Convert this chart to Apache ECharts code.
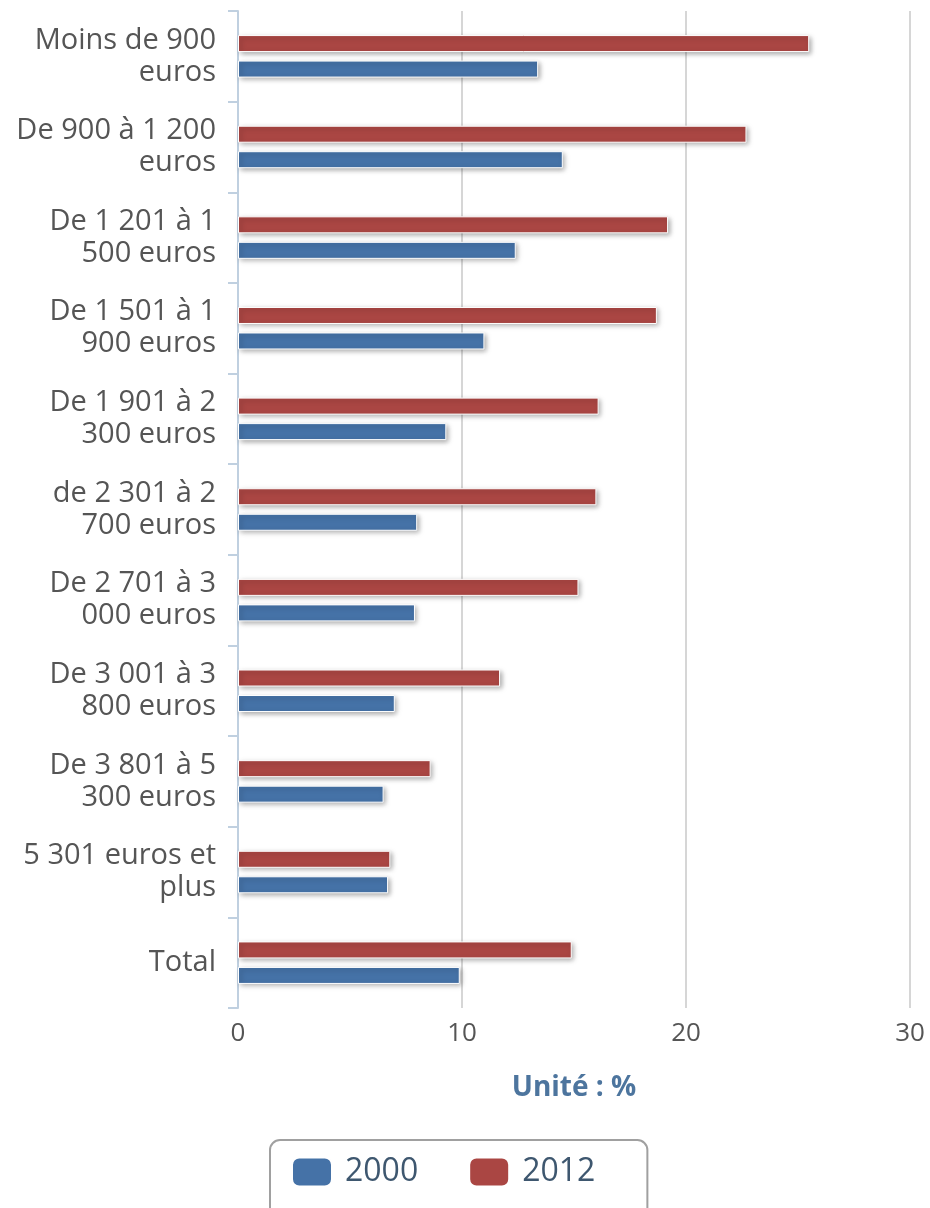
<!DOCTYPE html>
<html>
<head>
<meta charset="utf-8">
<script src="https://cdn.jsdelivr.net/npm/echarts@6/dist/echarts.min.js"></script>
<style>
html,body{margin:0;padding:0;background:#fff;}
#chart{width:930px;height:1208px;}
</style>
</head>
<body>
<div id="chart"></div>
<script>
const categories = [
  "Moins de 900\neuros",
  "De 900 à 1 200\neuros",
  "De 1 201 à 1\n500 euros",
  "De 1 501 à 1\n900 euros",
  "De 1 901 à 2\n300 euros",
  "de 2 301 à 2\n700 euros",
  "De 2 701 à 3\n000 euros",
  "De 3 001 à 3\n800 euros",
  "De 3 801 à 5\n300 euros",
  "5 301 euros et\nplus",
  "Total"
];
const values2000 = [13.4, 14.5, 12.4, 11.0, 9.3, 8.0, 7.9, 7.0, 6.5, 6.7, 9.9];
const values2012 = [25.5, 22.7, 19.2, 18.7, 16.1, 16.0, 15.2, 11.7, 8.6, 6.8, 14.9];
const xTicks = [0, 10, 20, 30];
const axisTitle = "Unité : %";
const seriesNames = ["2000", "2012"];

const chart = echarts.init(document.getElementById('chart'), null, {renderer: 'canvas'});
const barStyle = (color) => ({
  color: color,
  borderColor: '#ffffff',
  borderWidth: 1,
  shadowColor: 'rgba(0,0,0,0.35)',
  shadowBlur: 5,
  shadowOffsetX: 2,
  shadowOffsetY: 2
});
chart.setOption({
  animation: false,
  textStyle: {fontFamily: '"Open Sans", sans-serif'},
  grid: {left: 238, right: 20, top: 11, bottom: 200, containLabel: false},
  xAxis: {
    type: 'value',
    min: xTicks[0],
    max: xTicks[xTicks.length - 1],
    interval: 10,
    name: axisTitle,
    nameLocation: 'middle',
    nameGap: 66,
    nameTextStyle: {color: '#4d759e', fontSize: 28, fontWeight: 'bold', fontFamily: '"Open Sans", sans-serif'},
    axisLine: {show: false},
    axisTick: {show: false},
    axisLabel: {color: '#555555', fontSize: 26, margin: 13},
    splitLine: {show: true, lineStyle: {color: '#c8c8c8', width: 1.5}}
  },
  yAxis: {
    type: 'category',
    data: categories,
    inverse: true,
    axisLine: {show: true, lineStyle: {color: '#c0d0e0', width: 2}},
    axisTick: {show: true, length: 10, lineStyle: {color: '#c0d0e0', width: 2}},
    axisLabel: {color: '#555555', fontSize: 29, lineHeight: 32, margin: 22, align: 'right'},
    splitLine: {show: false}
  },
  legend: {
    data: seriesNames,
    top: 1140,
    left: 270,
    orient: 'horizontal',
    itemWidth: 40,
    itemHeight: 29,
    itemGap: 50,
    icon: 'roundRect',
    padding: [14, 52, 30, 21],
    borderColor: '#a0a0a0',
    borderWidth: 2,
    borderRadius: 10,
    textStyle: {color: '#3e576f', fontSize: 32, lineHeight: 36, padding: [0, 0, 0, 8]}
  },
  series: [
    {name: seriesNames[1], type: 'bar', data: values2012, barWidth: 17, barGap: '50%', itemStyle: barStyle('#aa4643')},
    {name: seriesNames[0], type: 'bar', data: values2000, barWidth: 17, barGap: '50%', itemStyle: barStyle('#4572a7')}
  ]
});
</script>
</body>
</html>
